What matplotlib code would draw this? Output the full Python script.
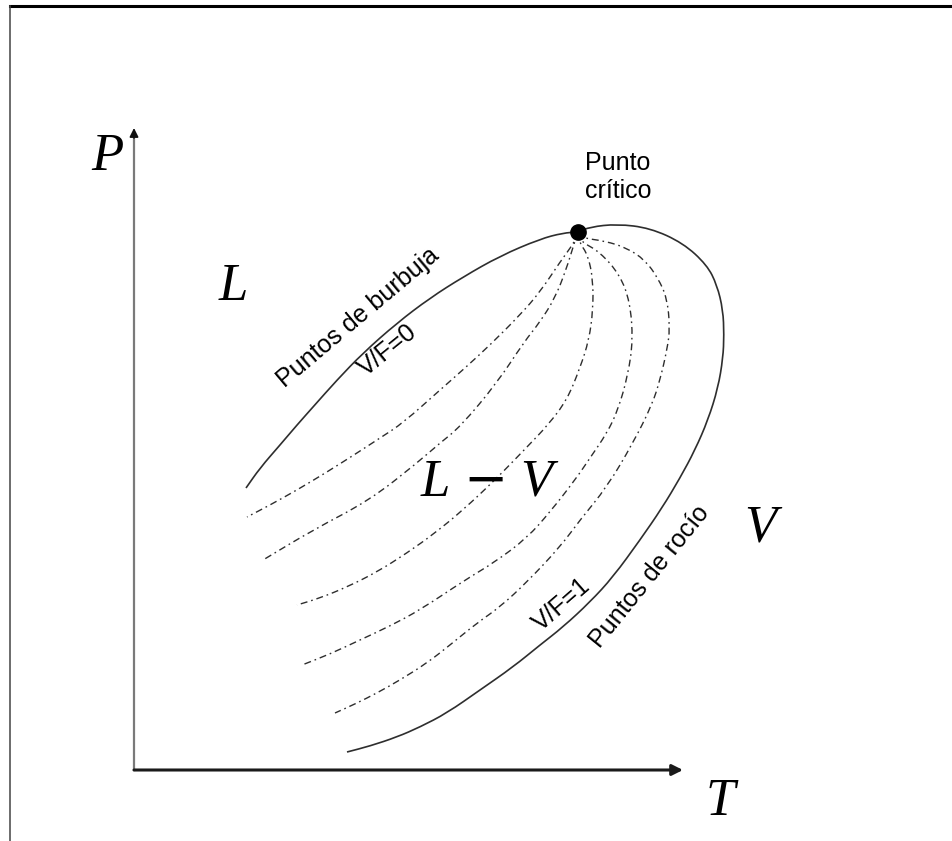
import matplotlib
matplotlib.use('Agg')
import matplotlib.pyplot as plt
from matplotlib.lines import Line2D
from matplotlib.path import Path
from matplotlib.patches import PathPatch

# diagram P-T of a mixture: bubble curve, dew curve and constant V/F curves
# coordinates are T, P in arbitrary units (origin = axes corner)

crit = (444, 538)

bubble_T = [112, 126, 146, 163, 179, 203, 229, 263, 296, 329, 366, 406, 429, 444]
bubble_P = [282, 302, 325, 345, 363, 390, 417, 447, 472, 493, 514, 531, 537, 538]

dew_T = [444, 456, 483, 516, 549, 573, 583, 589, 590, 589, 584, 574, 561, 546, 528,
         506, 479, 456, 429, 406, 379, 346, 313, 286, 263, 236, 213]
dew_P = [538, 543, 546, 542, 527, 505, 485, 460, 435, 412, 382, 350, 320, 292, 262,
         230, 193, 168, 143, 125, 103, 80, 57, 43, 33, 24, 18]

# V/F constant lines (from near bubble to near dew)
vf_T = [
    [444, 442, 426, 406, 386, 356, 331, 306, 269, 246, 223, 193, 163, 136, 113],
    [444, 440, 432, 421, 406, 390, 363, 326, 306, 283, 236, 179, 129],
    [444, 445, 454, 459, 459, 455, 446, 433, 414, 393, 361, 329, 301, 273, 243, 213, 186, 163],
    [444, 446, 466, 486, 496, 499, 494, 484, 473, 456, 441, 416, 393, 361, 331, 286, 256, 226, 196, 168],
    [444, 448, 471, 493, 511, 524, 533, 536, 533, 526, 518, 499, 473, 446, 426, 393, 366, 343, 316, 293,
     266, 243, 221, 201],
]
vf_P = [
    [538, 530, 508, 478, 455, 425, 402, 380, 347, 332, 317, 298, 280, 265, 253],
    [538, 526, 500, 472, 448, 428, 387, 343, 327, 307, 270, 240, 210],
    [538, 528, 515, 490, 460, 430, 402, 370, 345, 323, 290, 260, 237, 217, 198, 183, 172, 165],
    [538, 529, 518, 495, 468, 430, 395, 360, 337, 312, 290, 258, 232, 208, 190, 160, 144, 130, 116, 105],
    [538, 532, 529, 522, 510, 492, 472, 442, 420, 390, 365, 327, 283, 250, 223, 188, 163, 147, 125, 107,
     90, 77, 66, 57],
]


def smooth_curve(ax, t, p, **kw):
    # draw a rounded path through the read points (quadratic pieces between midpoints)
    pts = list(zip(t, p))
    verts = [pts[0]]
    codes = [Path.MOVETO]
    mid = lambda a, b: ((a[0] + b[0]) / 2, (a[1] + b[1]) / 2)
    verts.append(mid(pts[0], pts[1]))
    codes.append(Path.LINETO)
    for i in range(1, len(pts) - 1):
        verts += [pts[i], mid(pts[i], pts[i + 1])]
        codes += [Path.CURVE3, Path.CURVE3]
    verts.append(pts[-1])
    codes.append(Path.LINETO)
    patch = PathPatch(Path(verts, codes), fill=False, clip_on=False, **kw)
    ax.add_patch(patch)


fig = plt.figure(figsize=(9.53, 8.41), dpi=100)
W, H = 953, 841
ox, oy = 134, 770          # axes origin in pixels
xmax, ymax = 549, 642
ax = fig.add_axes([ox / W, (H - oy) / H, xmax / W, ymax / H])
ax.set_xlim(0, xmax)
ax.set_ylim(0, ymax)
ax.axis('off')

line_col = '#2e2e2e'

# axes with arrows (gray P axis with black head, black T axis)
ax.plot([0, 0], [0, ymax - 8], color='#7a7a7a', lw=1.6, clip_on=False)
ax.annotate('', xy=(0, ymax), xytext=(0, ymax - 10),
            arrowprops=dict(arrowstyle='-|>', color='#111111', lw=1.2,
                            mutation_scale=13, shrinkA=0, shrinkB=0),
            annotation_clip=False)
ax.annotate('', xy=(xmax, 0), xytext=(0, 0),
            arrowprops=dict(arrowstyle='-|>', color='#1a1a1a', lw=2.2,
                            mutation_scale=16, shrinkA=0, shrinkB=0),
            annotation_clip=False)

# curves
smooth_curve(ax, bubble_T, bubble_P, edgecolor=line_col, lw=1.2)
smooth_curve(ax, dew_T, dew_P, edgecolor=line_col, lw=1.2)
for t, p in zip(vf_T, vf_P):
    smooth_curve(ax, t, p, edgecolor=line_col, lw=1.0,
                 linestyle=(0, (5, 2.8, 1.2, 2.8)))

ax.plot([crit[0]], [crit[1]], 'o', color='black', ms=11, zorder=5, clip_on=False)

# labels
serif = dict(family='Liberation Serif', style='italic', fontsize=38,
             ha='center', va='center')
ax.text(-27, 613, 'P', clip_on=False, **serif)
ax.text(586, -32, 'T', clip_on=False, **serif)
ax.text(99, 483, 'L', **serif)
ax.text(356, 287, 'L $-$ V', **serif)
ax.text(626, 242, 'V', **serif)

sans = dict(family='Liberation Sans', fontsize=18, ha='center', va='center',
            rotation_mode='anchor', color='black')
ax.text(484, 593, 'Punto\ncrítico', linespacing=1.25, **sans)
ax.text(224, 452, 'Puntos de burbuja', rotation=40, **sans)
ax.text(254, 420, 'V/F=0', rotation=39, **sans)
ax.text(428, 165, 'V/F=1', rotation=41, **sans)
ax.text(516, 193, 'Puntos de rocío', rotation=51, **sans)

# frame lines of the original picture
fig.add_artist(Line2D([10 / W, 1], [1 - 6 / H, 1 - 6 / H], color='black', lw=2.2))
fig.add_artist(Line2D([10 / W, 10 / W], [0, 1 - 6 / H], color='#444444', lw=1.1))

fig.savefig('out.png', dpi=100)
